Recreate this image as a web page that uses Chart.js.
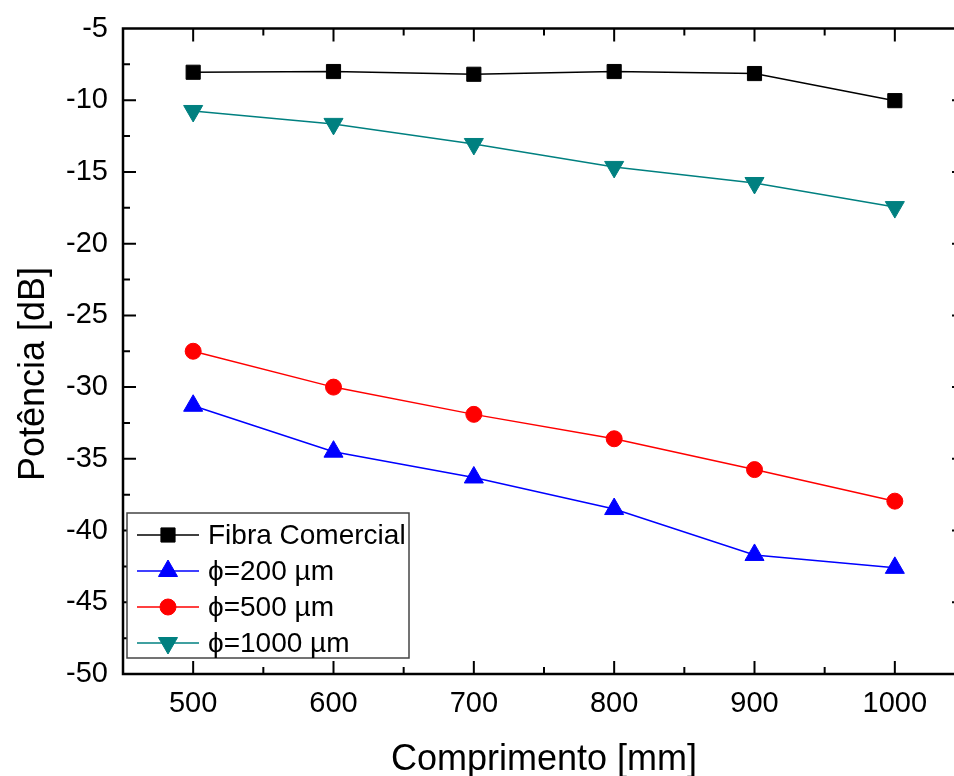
<!DOCTYPE html>
<html>
<head>
<meta charset="utf-8">
<script src="https://cdn.jsdelivr.net/npm/chart.js@4.4.4/dist/chart.umd.min.js"></script>
<style>
  html, body { margin: 0; padding: 0; overflow: hidden; background: #fff; }
  #wrap { width: 1000px; height: 776px; }
</style>
</head>
<body>
<div id="wrap"><canvas id="chart" width="1000" height="776"></canvas></div>
<script>
// Comprimento da fibra [mm]
const comprimentos = [500, 600, 700, 800, 900, 1000];
const yTicks = [-50, -45, -40, -35, -30, -25, -20, -15, -10, -5];

// Potência medida [dB]
const fibraComercial = [-8.05, -8.0, -8.19, -8.0, -8.14, -10.03];
const phi200 = [-31.3, -34.5, -36.3, -38.5, -41.7, -42.6];
const phi500 = [-27.5, -30.0, -31.9, -33.6, -35.75, -37.95];
const phi1000 = [-10.75, -11.65, -13.05, -14.65, -15.77, -17.45];

const FONT = '"Liberation Sans", Arial, sans-serif';

function pts(values) {
  return values.map((v, i) => ({ x: comprimentos[i], y: v }));
}

function serie(label, values, color, pointStyle, radius, rotation) {
  return {
    label,
    data: pts(values),
    borderColor: color,
    backgroundColor: color,
    borderWidth: 1.5,
    pointStyle,
    pointRadius: radius,
    pointRotation: rotation || 0,
    pointBorderWidth: 1,
    pointBorderColor: color,
    pointBackgroundColor: color,
    tension: 0
  };
}

// frame, inward ticks, legend box and axis titles
const framePlugin = {
  id: 'frame',
  afterDraw(chart) {
    const { ctx, chartArea: a, scales: { x, y } } = chart;
    ctx.save();
    ctx.strokeStyle = '#000';
    ctx.lineWidth = 2.5;
    ctx.strokeRect(a.left, a.top, a.right - a.left, a.bottom - a.top);

    ctx.lineWidth = 2;
    ctx.beginPath();
    for (let v = 450; v <= 1050; v += 50) {
      const px = x.getPixelForValue(v);
      if (px <= a.left + 1 || px >= a.right - 1) continue;
      const len = v % 100 === 0 ? 13 : 7;
      ctx.moveTo(px, a.bottom); ctx.lineTo(px, a.bottom - len);
      ctx.moveTo(px, a.top); ctx.lineTo(px, a.top + len);
    }
    for (let v = -50; v <= -5; v += 2.5) {
      const py = y.getPixelForValue(v);
      if (py >= a.bottom - 1 || py <= a.top + 1) continue;
      const len = v % 5 === 0 ? 13 : 7;
      ctx.moveTo(a.left, py); ctx.lineTo(a.left + len, py);
      ctx.moveTo(a.right, py); ctx.lineTo(a.right - len, py);
    }
    ctx.stroke();

    // legend
    const lx = a.left + 4, ly = a.bottom - 161, lw = 282, lh = 145;
    ctx.fillStyle = '#fff';
    ctx.fillRect(lx, ly, lw, lh);
    ctx.strokeStyle = '#444';
    ctx.lineWidth = 1.5;
    ctx.strokeRect(lx, ly, lw, lh);
    ctx.font = '28px ' + FONT;
    ctx.textBaseline = 'middle';
    ctx.textAlign = 'left';
    chart.data.datasets.forEach((ds, i) => {
      const ry = ly + 22 + i * 36;
      ctx.strokeStyle = ds.borderColor;
      ctx.lineWidth = 1.5;
      ctx.beginPath();
      ctx.moveTo(lx + 10, ry); ctx.lineTo(lx + 72, ry);
      ctx.stroke();
      ctx.fillStyle = ds.backgroundColor;
      ctx.lineWidth = 1;
      Chart.helpers.drawPoint(ctx, {
        pointStyle: ds.pointStyle, radius: ds.pointRadius,
        rotation: ds.pointRotation, borderWidth: 1
      }, lx + 41, ry);
      ctx.fillStyle = '#000';
      ctx.fillText(ds.label, lx + 81, ry + 1);
    });

    // axis titles
    ctx.fillStyle = '#000';
    ctx.font = '36px ' + FONT;
    ctx.textAlign = 'center';
    ctx.textBaseline = 'alphabetic';
    ctx.fillText('Comprimento [mm]', (a.left + a.right) / 2, 770);
    ctx.translate(44, 374);
    ctx.rotate(-Math.PI / 2);
    ctx.fillText('Potência [dB]', 0, 0);
    ctx.restore();
  }
};

new Chart(document.getElementById('chart'), {
  type: 'line',
  data: {
    datasets: [
      serie('Fibra Comercial', fibraComercial, '#000000', 'rect', 10),
      serie('\u03D5=200 \u00B5m', phi200, '#0000ff', 'triangle', 11),
      serie('\u03D5=500 \u00B5m', phi500, '#ff0000', 'circle', 8),
      serie('\u03D5=1000 \u00B5m', phi1000, '#008080', 'triangle', 11, 180)
    ]
  },
  options: {
    responsive: false,
    animation: false,
    devicePixelRatio: 1,
    layout: { padding: { top: 28.5, right: 35, left: 0, bottom: 0 } },
    plugins: { legend: { display: false }, tooltip: { enabled: false } },
    scales: {
      x: {
        type: 'linear',
        min: 450,
        max: 1050,
        grid: { display: false, drawTicks: false },
        border: { display: false },
        afterBuildTicks: s => { s.ticks = comprimentos.map(v => ({ value: v })); },
        afterFit: s => { s.height = 102; s.paddingLeft = 0; s.paddingRight = 0; },
        ticks: {
          color: '#000', padding: 13, maxRotation: 0,
          font: { family: FONT, size: 29 },
          callback: v => String(v)
        }
      },
      y: {
        min: -50,
        max: -5,
        grid: { display: false, drawTicks: false },
        border: { display: false },
        afterBuildTicks: s => { s.ticks = yTicks.map(v => ({ value: v })); },
        afterFit: s => { s.width = 123; s.paddingTop = 0; s.paddingBottom = 0; },
        ticks: { color: '#000', padding: 15, font: { family: FONT, size: 29 } }
      }
    }
  },
  plugins: [framePlugin]
});
</script>
</body>
</html>
